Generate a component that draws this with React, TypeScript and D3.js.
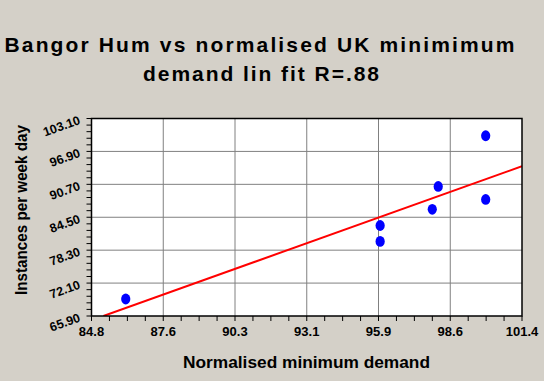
import React from "react";
import * as d3 from "d3";

const titleLines = ["Bangor Hum  vs normalised UK minimimum", "demand lin fit R=.88"];
const xTitle = "Normalised minimum demand";
const yTitle = "Instances per week day";

const xTickLabels = ["84.8", "87.6", "90.3", "93.1", "95.9", "98.6", "101.4"];
const yTickLabels = ["65.90", "72.10", "78.30", "84.50", "90.70", "96.90", "103.10"];
const xDomain = [84.8, 101.4];
const yDomain = [65.9, 103.1];

const demandX = [86.12, 95.93, 95.93, 97.94, 98.17, 100.0, 100.0];
const humY = [69.1, 82.95, 79.95, 86.0, 90.3, 99.85, 87.85];

const fitX = [85.26, 101.4];
const fitY = [65.9, 94.12];

const W = 544;
const H = 381;
const L = 91.5, R = 522, T = 118.5, B = 316;

export default function App() {
  const x = d3.scaleLinear().domain(xDomain).range([L, R]);
  const y = d3.scaleLinear().domain(yDomain).range([B, T]);
  const nx = xTickLabels.length - 1;
  const ny = yTickLabels.length - 1;
  const xMajor = xTickLabels.map((_, i) => xDomain[0] + (i * (xDomain[1] - xDomain[0])) / nx);
  const yMajor = yTickLabels.map((_, i) => yDomain[0] + (i * (yDomain[1] - yDomain[0])) / ny);
  const xMinor: number[] = [];
  for (let i = 0; i < nx * 4; i++) xMinor.push(xDomain[0] + (i * (xDomain[1] - xDomain[0])) / (nx * 4));
  const yMinor: number[] = [];
  for (let i = 0; i < ny * 5; i++) yMinor.push(yDomain[0] + (i * (yDomain[1] - yDomain[0])) / (ny * 5));

  const line = d3
    .line<number>()
    .x((_, i) => x(fitX[i]))
    .y((_, i) => y(fitY[i]));

  const font = "'Liberation Sans', Arial, sans-serif";

  return (
    <svg
      width={W}
      height={H}
      style={{ position: "absolute", left: 0, top: 0, background: "#D4D0C8" }}
      fontFamily={font}
    >
      <rect x={0} y={0} width={W} height={H} fill="#D4D0C8" />
      <text x={259.5} y={52} fontSize={21} fontWeight="bold" textAnchor="middle" textLength={510} lengthAdjust="spacing" fill="#000">
        {titleLines[0]}
      </text>
      <text x={261} y={81} fontSize={21} fontWeight="bold" textAnchor="middle" textLength={236} lengthAdjust="spacing" fill="#000">
        {titleLines[1]}
      </text>

      <rect x={L} y={T} width={R - L} height={B - T} fill="#fff" />
      {xMajor.slice(1, -1).map((v, i) => (
        <line key={"gx" + i} x1={x(v)} x2={x(v)} y1={T} y2={B} stroke="#808080" strokeWidth={1} />
      ))}
      {yMajor.slice(1, -1).map((v, i) => (
        <line key={"gy" + i} x1={L} x2={R} y1={y(v)} y2={y(v)} stroke="#808080" strokeWidth={1} />
      ))}
      {xMinor.concat([xDomain[1]]).map((v, i) => (
        <line key={"tx" + i} x1={x(v)} x2={x(v)} y1={B} y2={B + 5} stroke="#000" strokeWidth={1} />
      ))}
      {yMinor.concat([yDomain[1]]).map((v, i) => (
        <line key={"ty" + i} x1={L - 5} x2={L} y1={y(v)} y2={y(v)} stroke="#000" strokeWidth={1} />
      ))}

      <defs>
        <clipPath id="plotclip">
          <rect x={L} y={T} width={R - L} height={B - T} />
        </clipPath>
      </defs>
      <g clipPath="url(#plotclip)">
        <path d={line(fitX) || ""} fill="none" stroke="#FF0000" strokeWidth={2} />
      </g>
      {demandX.map((v, i) => (
        <ellipse key={"p" + i} cx={x(v)} cy={y(humY[i])} rx={4.6} ry={5.4} fill="#0000FF" />
      ))}
      <rect x={L} y={T} width={R - L} height={B - T} fill="none" stroke="#000" strokeWidth={1.5} />

      {xMajor.map((v, i) => (
        <text key={"xl" + i} x={x(v)} y={336} fontSize={13} fontWeight="bold" textAnchor="middle" fill="#000">
          {xTickLabels[i]}
        </text>
      ))}
      {yMajor.map((v, i) => (
        <text
          key={"yl" + i}
          x={81}
          y={y(v) + 5}
          fontSize={12.5}
          fontWeight="bold"
          textAnchor="end"
          fill="#000"
          transform={`rotate(-20 ${81} ${y(v) + 5})`}
        >
          {yTickLabels[i]}
        </text>
      ))}

      <text x={306.5} y={368} fontSize={16} fontWeight="bold" textAnchor="middle" textLength={247} lengthAdjust="spacingAndGlyphs" fill="#000">
        {xTitle}
      </text>
      <text
        x={0}
        y={0}
        fontSize={16}
        fontWeight="bold"
        textAnchor="middle"
        textLength={170}
        lengthAdjust="spacingAndGlyphs"
        fill="#000"
        transform={`translate(27 210) rotate(-90)`}
      >
        {yTitle}
      </text>
    </svg>
  );
}
